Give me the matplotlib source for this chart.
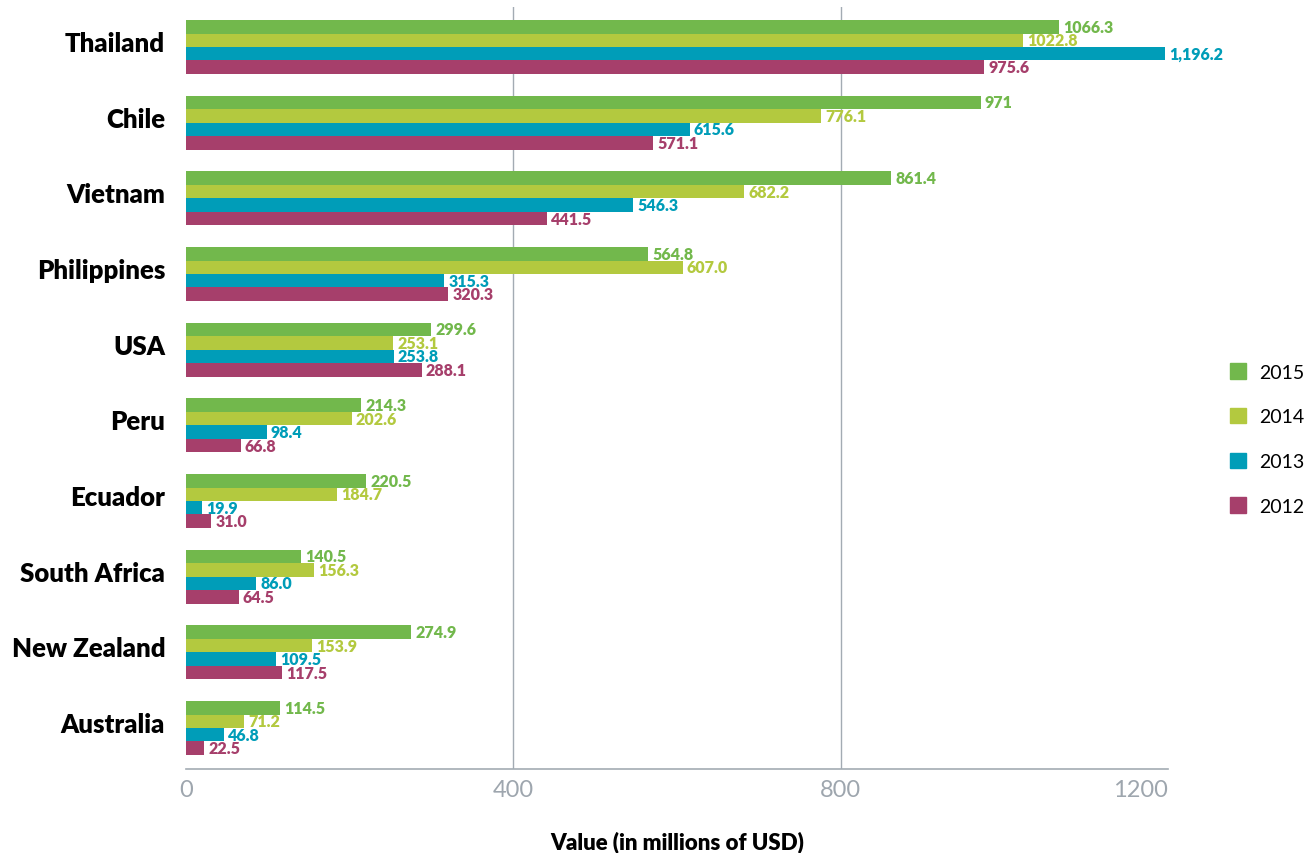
import matplotlib
matplotlib.use('Agg')
import matplotlib.pyplot as plt
import matplotlib.transforms as mtransforms
from matplotlib.patches import Patch
import numpy as np

plt.rcParams['font.family'] = ['Lato', 'DejaVu Sans']

countries = ['Thailand', 'Chile', 'Vietnam', 'Philippines', 'USA', 'Peru',
             'Ecuador', 'South Africa', 'New Zealand', 'Australia']
years = ['2015', '2014', '2013', '2012']

v2015 = [1066.3, 971, 861.4, 564.8, 299.6, 214.3, 220.5, 140.5, 274.9, 114.5]
v2014 = [1022.8, 776.1, 682.2, 607.0, 253.1, 202.6, 184.7, 156.3, 153.9, 71.2]
v2013 = [1196.2, 615.6, 546.3, 315.3, 253.8, 98.4, 19.9, 86.0, 109.5, 46.8]
v2012 = [975.6, 571.1, 441.5, 320.3, 288.1, 66.8, 31.0, 64.5, 117.5, 22.5]

# labels as printed on the chart
l2015 = ['1066.3', '971', '861.4', '564.8', '299.6', '214.3', '220.5', '140.5', '274.9', '114.5']
l2014 = ['1022.8', '776.1', '682.2', '607.0', '253.1', '202.6', '184.7', '156.3', '153.9', '71.2']
l2013 = ['1,196.2', '615.6', '546.3', '315.3', '253.8', '98.4', '19.9', '86.0', '109.5', '46.8']
l2012 = ['975.6', '571.1', '441.5', '320.3', '288.1', '66.8', '31.0', '64.5', '117.5', '22.5']

colors = ['#72b84c', '#b3c93f', '#009db8', '#a63f6b']
series = [v2015, v2014, v2013, v2012]
labels = [l2015, l2014, l2013, l2012]

fig = plt.figure(figsize=(13.14, 8.54), dpi=100)
ax = fig.add_axes([186 / 1314, (854 - 770) / 854, (1168 - 186) / 1314, 762 / 854])

y = np.arange(len(countries))
h = 0.178
offsets = [-1.5 * h, -0.5 * h, 0.5 * h, 1.5 * h]

for vals, labs, c, off in zip(series, labels, colors, offsets):
    bars = ax.barh(y + off, vals, height=h, color=c, zorder=3)
    for b, lab in zip(bars, labs):
        ax.annotate(lab, (b.get_width(), b.get_y() + b.get_height() / 2),
                    xytext=(3, 0), textcoords='offset points',
                    ha='left', va='center', color=c, fontsize=11.5,
                    fontweight='heavy', zorder=4)

ax.set_xlim(0, 1200)
ax.set_ylim(len(countries) - 1 + 0.542, -0.529)
ax.set_xticks([0, 400, 800, 1200])
ax.set_xticklabels(['0', '400', '800', '1200'])
ax.set_yticks(y)
ax.set_yticklabels(countries, fontsize=18.5, fontweight='heavy')
ax.tick_params(axis='y', length=0, pad=15)
ax.tick_params(axis='x', length=0, pad=7, labelsize=17, labelcolor='#9ea6ae')
ax.get_xticklabels()[-1].set_ha('right')

# country names sit a little above the bar group centre
shift = mtransforms.ScaledTranslation(0, 6 / 100, fig.dpi_scale_trans)
for lab in ax.get_yticklabels():
    lab.set_transform(lab.get_transform() + shift)

ax.grid(axis='x', color='#a3abb3', linewidth=1, zorder=0)
ax.xaxis.get_gridlines()[0].set_visible(False)
ax.xaxis.get_gridlines()[-1].set_visible(False)

for s in ['top', 'right', 'left']:
    ax.spines[s].set_visible(False)
ax.spines['bottom'].set_color('#a3abb3')
ax.spines['bottom'].set_linewidth(1.2)

ax.set_xlabel('Value (in millions of USD)', fontsize=16, fontweight='heavy', labelpad=22)

handles = [Patch(color=c, label=yr) for c, yr in zip(colors, years)]
fig.legend(handles=handles, loc='center left', bbox_to_anchor=(1212 / 1314, 414 / 854),
           frameon=False, fontsize=14, handlelength=0.85, handleheight=0.85,
           labelspacing=1.4, handletextpad=0.65)

fig.savefig('out.png', dpi=100)
